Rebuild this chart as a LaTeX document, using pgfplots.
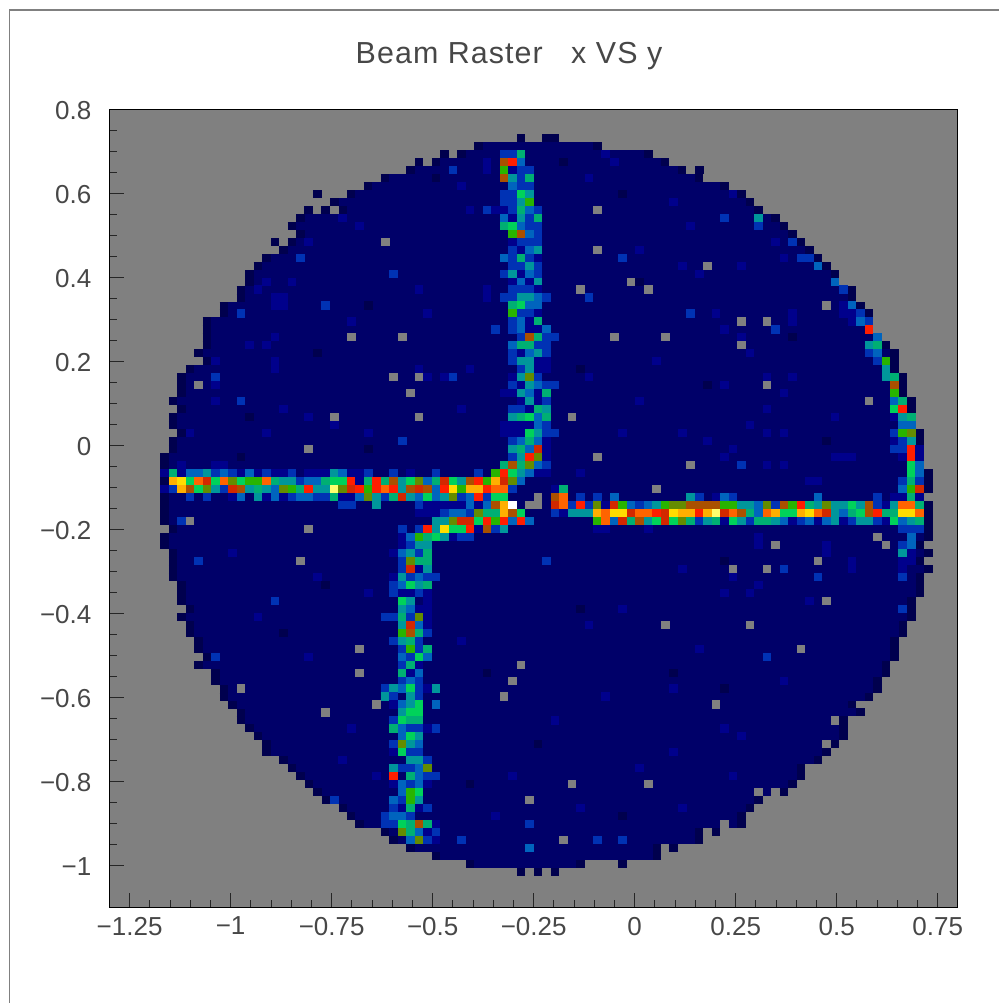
\documentclass[border=0pt]{standalone}
\usepackage{fontspec}
\setmainfont{Liberation Sans}
\newfontfamily\titlefont[LetterSpace=3.5]{Liberation Sans}
\usepackage{pgfplots}
\usepackage{pgfplotstable}
\pgfplotsset{compat=1.18}
\definecolor{bggray}{RGB}{128,128,128}
\definecolor{lvlzero}{RGB}{0,0,78}
\definecolor{lvlbase}{RGB}{0,0,105}
\pgfdeclareplotmark{cell}{\pgfpathrectangle{\pgfqpoint{-2.17pt}{-2.03pt}}{\pgfqpoint{4.34pt}{4.06pt}}\pgfusepathqfill}
% row spans: edge index k, row j, side s
\pgfplotstableread[row sep=\\]{
k j s\\
51 3 1\\ 53 3 -1\\ nan nan 0\\ 43 4 1\\ 58 4 -1\\ nan nan 0\\ 41 5 1\\ 64 5 -1\\ nan nan 0\\
38 6 1\\ 66 6 -1\\ nan nan 0\\ 35 7 1\\ 68 7 -1\\ nan nan 0\\ 32 8 1\\ 70 8 -1\\ nan nan 0\\
30 9 1\\ 73 9 -1\\ nan nan 0\\ 28 10 1\\ 75 10 -1\\ nan nan 0\\ 26 11 1\\ 76 11 -1\\ nan nan 0\\
27 12 1\\ 77 12 -1\\ nan nan 0\\ 22 13 1\\ 79 13 -1\\ nan nan 0\\ 21 14 1\\ 80 14 -1\\ nan nan 0\\
22 15 1\\ 81 15 -1\\ nan nan 0\\ 21 16 1\\ 82 16 -1\\ nan nan 0\\ 20 17 1\\ 83 17 -1\\ nan nan 0\\
18 18 1\\ 84 18 -1\\ nan nan 0\\ 17 19 1\\ 85 19 -1\\ nan nan 0\\ 16 20 1\\ 86 20 -1\\ nan nan 0\\
16 21 1\\ 86 21 -1\\ nan nan 0\\ 15 22 1\\ 88 22 -1\\ nan nan 0\\ 15 23 1\\ 88 23 -1\\ nan nan 0\\
13 24 1\\ 89 24 -1\\ nan nan 0\\ 13 25 1\\ 90 25 -1\\ nan nan 0\\ 11 26 1\\ 90 26 -1\\ nan nan 0\\
11 27 1\\ 90 27 -1\\ nan nan 0\\ 11 28 1\\ 91 28 -1\\ nan nan 0\\ 11 29 1\\ 92 29 -1\\ nan nan 0\\
10 30 1\\ 93 30 -1\\ nan nan 0\\ 11 31 1\\ 93 31 -1\\ nan nan 0\\ 9 32 1\\ 93 32 -1\\ nan nan 0\\
8 33 1\\ 94 33 -1\\ nan nan 0\\ 8 34 1\\ 94 34 -1\\ nan nan 0\\ 8 35 1\\ 94 35 -1\\ nan nan 0\\
7 36 1\\ 95 36 -1\\ nan nan 0\\ 8 37 1\\ 95 37 -1\\ nan nan 0\\ 7 38 1\\ 95 38 -1\\ nan nan 0\\
7 39 1\\ 95 39 -1\\ nan nan 0\\ 8 40 1\\ 96 40 -1\\ nan nan 0\\ 7 41 1\\ 96 41 -1\\ nan nan 0\\
7 42 1\\ 96 42 -1\\ nan nan 0\\ 6 43 1\\ 96 43 -1\\ nan nan 0\\ 6 44 1\\ 96 44 -1\\ nan nan 0\\
6 45 1\\ 97 45 -1\\ nan nan 0\\ 6 46 1\\ 97 46 -1\\ nan nan 0\\ 6 47 1\\ 97 47 -1\\ nan nan 0\\
6 48 1\\ 96 48 -1\\ nan nan 0\\ 6 49 1\\ 97 49 -1\\ nan nan 0\\ 6 50 1\\ 97 50 -1\\ nan nan 0\\
6 51 1\\ 97 51 -1\\ nan nan 0\\ 7 52 1\\ 97 52 -1\\ nan nan 0\\ 6 53 1\\ 97 53 -1\\ nan nan 0\\
6 54 1\\ 96 54 -1\\ nan nan 0\\ 7 55 1\\ 97 55 -1\\ nan nan 0\\ 7 56 1\\ 96 56 -1\\ nan nan 0\\
7 57 1\\ 97 57 -1\\ nan nan 0\\ 7 58 1\\ 96 58 -1\\ nan nan 0\\ 8 59 1\\ 96 59 -1\\ nan nan 0\\
8 60 1\\ 96 60 -1\\ nan nan 0\\ 8 61 1\\ 95 61 -1\\ nan nan 0\\ 9 62 1\\ 95 62 -1\\ nan nan 0\\
8 63 1\\ 95 63 -1\\ nan nan 0\\ 9 64 1\\ 94 64 -1\\ nan nan 0\\ 9 65 1\\ 94 65 -1\\ nan nan 0\\
10 66 1\\ 93 66 -1\\ nan nan 0\\ 10 67 1\\ 93 67 -1\\ nan nan 0\\ 11 68 1\\ 93 68 -1\\ nan nan 0\\
10 69 1\\ 92 69 -1\\ nan nan 0\\ 12 70 1\\ 92 70 -1\\ nan nan 0\\ 12 71 1\\ 91 71 -1\\ nan nan 0\\
13 72 1\\ 91 72 -1\\ nan nan 0\\ 13 73 1\\ 90 73 -1\\ nan nan 0\\ 14 74 1\\ 88 74 -1\\ nan nan 0\\
15 75 1\\ 89 75 -1\\ nan nan 0\\ 15 76 1\\ 87 76 -1\\ nan nan 0\\ 16 77 1\\ 87 77 -1\\ nan nan 0\\
17 78 1\\ 87 78 -1\\ nan nan 0\\ 18 79 1\\ 86 79 -1\\ nan nan 0\\ 18 80 1\\ 85 80 -1\\ nan nan 0\\
20 81 1\\ 84 81 -1\\ nan nan 0\\ 21 82 1\\ 82 82 -1\\ nan nan 0\\ 22 83 1\\ 82 83 -1\\ nan nan 0\\
23 84 1\\ 81 84 -1\\ nan nan 0\\ 24 85 1\\ 80 85 -1\\ nan nan 0\\ 25 86 1\\ 77 86 -1\\ nan nan 0\\
27 87 1\\ 76 87 -1\\ nan nan 0\\ 28 88 1\\ 75 88 -1\\ nan nan 0\\ 29 89 1\\ 75 89 -1\\ nan nan 0\\
32 90 1\\ 70 90 -1\\ nan nan 0\\ 33 91 1\\ 70 91 -1\\ nan nan 0\\ 35 92 1\\ 65 92 -1\\ nan nan 0\\
38 93 1\\ 65 93 -1\\ nan nan 0\\ 42 94 1\\ 56 94 -1\\
}\spans
% empty bins inside the disc: bin i, row j
\pgfplotstableread[row sep=\\]{
i j\\
10 34\\ 32 16\\ 28 28\\ 34 28\\ 33 33\\ 36 33\\ 35 35\\ 26 38\\ 36 38\\ 23 42\\ 9 51\\ 23 52\\
57 12\\ 57 17\\ 70 19\\ 55 22\\ 61 21\\ 63 22\\ 84 24\\ 74 26\\ 77 26\\ 74 29\\ 77 34\\ 89 36\\
59 28\\ 65 28\\ 54 38\\ 57 43\\ 68 44\\ 64 47\\ 50 48\\ 49 49\\ 50 49\\ 90 53\\ 78 54\\ 91 54\\
22 56\\ 83 56\\ 73 57\\ 77 57\\ 84 61\\ 65 64\\ 75 64\\ 29 67\\ 81 67\\ 48 69\\ 29 70\\ 47 71\\
15 72\\ 46 73\\ 31 74\\ 71 74\\ 25 75\\ 85 76\\ 84 79\\ 54 84\\ 63 84\\ 76 85\\ 78 85\\ 49 86\\
72 89\\ 53 91\\
}\holes
% occupied bins: bin i, row j, colour level v
\pgfplotstableread[row sep=\\]{
i j v\\
39 5 0\\ 36 6 0\\ 69 7 0\\ 23 12 0\\ 25 12 0\\ 19 16 0\\ 71 90 0\\ 66 92 0\\ 60 94 0\\ 48 95 0\\ 50 95 0\\ 52 95 0\\
46 5 3\\ 47 5 3\\ 48 5 6\\ 46 6 10\\ 47 6 12\\ 48 6 4\\ 46 7 8\\ 47 7 2\\ 48 7 3\\ 49 7 3\\
46 8 10\\ 47 8 5\\ 48 8 3\\ 49 8 6\\ 47 9 4\\ 48 9 3\\ 49 9 3\\ 46 10 3\\ 47 10 3\\ 48 10 7\\ 49 10 5\\
46 11 3\\ 47 11 3\\ 48 11 5\\ 49 11 8\\ 44 12 3\\ 45 12 2\\ 46 12 2\\ 47 12 3\\ 48 12 6\\ 49 12 4\\ 50 12 3\\
46 13 4\\ 47 13 2\\ 48 13 5\\ 49 13 3\\ 50 13 6\\ 46 14 6\\ 47 14 7\\ 48 14 4\\ 49 14 3\\ 50 14 3\\
47 15 8\\ 48 15 10\\ 49 15 4\\ 50 15 3\\ 47 16 2\\ 48 16 3\\ 49 16 3\\ 50 16 3\\ 47 17 3\\ 48 17 2\\ 49 17 4\\ 50 17 5\\
46 18 4\\ 47 18 3\\ 48 18 6\\ 49 18 3\\ 50 18 2\\ 47 19 3\\ 48 19 3\\ 49 19 5\\ 50 19 3\\
46 20 3\\ 47 20 5\\ 48 20 2\\ 49 20 4\\ 50 20 3\\ 47 21 2\\ 48 21 4\\ 49 21 2\\ 50 21 5\\
47 22 3\\ 48 22 3\\ 49 22 3\\ 50 22 2\\ 46 23 3\\ 47 23 3\\ 48 23 5\\ 49 23 5\\ 50 23 4\\ 51 23 3\\
47 24 6\\ 48 24 7\\ 49 24 4\\ 50 24 4\\ 47 25 8\\ 48 25 3\\ 49 25 3\\ 50 25 2\\
47 26 3\\ 48 26 4\\ 49 26 2\\ 50 26 6\\ 45 27 3\\ 47 27 3\\ 48 27 4\\ 49 27 2\\ 50 27 2\\ 51 27 4\\
48 28 3\\ 49 28 10\\ 50 28 6\\ 51 28 3\\ 52 28 3\\ 47 29 4\\ 48 29 6\\ 49 29 6\\ 50 29 3\\ 51 29 3\\
47 30 3\\ 48 30 2\\ 49 30 4\\ 50 30 5\\ 51 30 3\\ 47 31 3\\ 48 31 5\\ 49 31 5\\ 50 31 2\\ 51 31 2\\
48 32 3\\ 49 32 5\\ 50 32 2\\ 51 32 2\\ 46 33 1\\ 47 33 2\\ 48 33 5\\ 49 33 9\\ 50 33 3\\
47 34 3\\ 48 34 2\\ 49 34 5\\ 50 34 4\\ 51 34 3\\ 52 34 3\\ 46 35 2\\ 47 35 2\\ 48 35 5\\ 49 35 4\\ 50 35 2\\ 51 35 6\\
48 36 2\\ 49 36 5\\ 50 36 2\\ 51 36 3\\ 47 37 3\\ 48 37 3\\ 49 37 2\\ 50 37 6\\ 51 37 5\\
47 38 5\\ 48 38 6\\ 49 38 7\\ 50 38 4\\ 51 38 6\\ 46 39 2\\ 47 39 2\\ 48 39 2\\ 49 39 2\\ 50 39 4\\ 51 39 3\\
46 40 2\\ 47 40 2\\ 48 40 2\\ 49 40 7\\ 50 40 5\\ 51 40 3\\ 52 40 3\\ 47 41 3\\ 48 41 4\\ 49 41 6\\ 50 41 4\\ 51 41 2\\
47 42 5\\ 48 42 6\\ 49 42 4\\ 50 42 11\\ 51 42 2\\ 47 43 3\\ 48 43 5\\ 49 43 12\\ 50 43 9\\ 51 43 2\\
8 44 2\\ 12 44 2\\ 13 44 2\\ 46 44 6\\ 47 44 10\\ 48 44 6\\ 49 44 9\\ 50 44 4\\ 51 44 3\\
6 45 2\\ 7 45 6\\ 8 45 2\\ 9 45 4\\ 10 45 4\\ 11 45 5\\ 12 45 3\\ 13 45 4\\ 14 45 3\\ 15 45 2\\ 16 45 4\\ 17 45 2\\ 18 45 3\\ 19 45 2\\ 20 45 2\\ 21 45 3\\ 23 45 2\\ 24 45 2\\ 25 45 2\\ 26 45 5\\ 27 45 4\\ 28 45 2\\ 29 45 2\\ 30 45 3\\ 33 45 3\\ 35 45 2\\ 38 45 3\\ 43 45 3\\ 45 45 8\\ 46 45 12\\ 47 45 7\\ 48 45 5\\ 49 45 4\\ 50 45 2\\ 51 45 2\\
7 46 14\\ 8 46 15\\ 9 46 7\\ 10 46 13\\ 11 46 11\\ 12 46 7\\ 13 46 13\\ 14 46 9\\ 15 46 7\\ 16 46 8\\ 17 46 8\\ 18 46 13\\ 19 46 6\\ 20 46 5\\ 21 46 5\\ 22 46 3\\ 23 46 4\\ 24 46 4\\ 25 46 6\\ 26 46 7\\ 27 46 7\\ 28 46 12\\ 29 46 2\\ 30 46 6\\ 31 46 12\\ 32 46 6\\ 33 46 10\\ 34 46 5\\ 35 46 7\\ 36 46 9\\ 37 46 4\\ 38 46 6\\ 39 46 11\\ 40 46 7\\ 41 46 5\\ 42 46 10\\ 43 46 12\\ 44 46 8\\ 45 46 14\\ 46 46 11\\ 47 46 9\\ 48 46 4\\
6 47 2\\ 7 47 3\\ 8 47 14\\ 9 47 10\\ 10 47 7\\ 11 47 9\\ 12 47 5\\ 13 47 3\\ 14 47 11\\ 15 47 10\\ 16 47 5\\ 17 47 6\\ 18 47 5\\ 19 47 4\\ 20 47 9\\ 21 47 8\\ 22 47 6\\ 23 47 12\\ 24 47 5\\ 25 47 5\\ 26 47 16\\ 27 47 9\\ 28 47 11\\ 29 47 12\\ 30 47 8\\ 31 47 12\\ 32 47 13\\ 33 47 12\\ 34 47 5\\ 35 47 10\\ 36 47 11\\ 37 47 10\\ 38 47 4\\ 39 47 12\\ 40 47 15\\ 41 47 8\\ 42 47 14\\ 43 47 14\\ 44 47 12\\ 45 47 13\\ 46 47 13\\ 47 47 3\\ 53 47 6\\ 52 47 2\\
9 48 3\\ 11 48 3\\ 14 48 2\\ 15 48 4\\ 17 48 5\\ 18 48 2\\ 19 48 4\\ 20 48 2\\ 21 48 3\\ 22 48 4\\ 23 48 4\\ 24 48 3\\ 25 48 3\\ 26 48 6\\ 27 48 2\\ 28 48 2\\ 29 48 4\\ 30 48 9\\ 31 48 5\\ 32 48 3\\ 33 48 6\\ 34 48 11\\ 35 48 5\\ 36 48 4\\ 37 48 7\\ 38 48 4\\ 39 48 5\\ 40 48 9\\ 41 48 3\\ 42 48 4\\ 43 48 12\\ 44 48 3\\ 45 48 7\\ 46 48 7\\ 52 48 10\\ 53 48 13\\ 55 48 3\\ 57 48 3\\ 59 48 4\\
68 48 5\\ 69 48 3\\ 71 48 2\\ 72 48 4\\ 73 48 3\\ 83 48 4\\ 90 48 3\\ 92 48 2\\ 93 48 2\\ 94 48 6\\ 95 48 2\\
27 49 3\\ 28 49 3\\ 31 49 5\\ 36 49 3\\ 37 49 2\\ 38 49 2\\ 39 49 2\\ 40 49 2\\ 41 49 2\\ 42 49 4\\ 43 49 2\\ 44 49 4\\ 45 49 10\\ 46 49 14\\ 47 49 17\\ 52 49 11\\ 53 49 13\\ 54 49 3\\ 55 49 12\\ 56 49 3\\ 57 49 9\\ 58 49 2\\ 59 49 11\\ 60 49 8\\ 61 49 4\\ 62 49 3\\ 63 49 4\\ 64 49 5\\ 65 49 8\\ 66 49 9\\ 67 49 9\\ 68 49 10\\ 69 49 10\\ 70 49 10\\ 71 49 10\\ 72 49 8\\ 73 49 8\\ 74 49 5\\ 75 49 5\\ 76 49 4\\ 77 49 9\\ 78 49 3\\ 79 49 10\\ 80 49 8\\ 81 49 12\\ 82 49 6\\ 83 49 5\\ 84 49 9\\ 85 49 5\\ 86 49 5\\ 87 49 7\\ 88 49 5\\ 89 49 10\\ 90 49 3\\ 91 49 2\\ 92 49 5\\ 93 49 13\\ 94 49 13\\ 95 49 6\\ 96 49 0\\
36 50 2\\ 37 50 2\\ 38 50 2\\ 39 50 3\\ 40 50 4\\ 41 50 4\\ 42 50 3\\ 43 50 9\\ 44 50 6\\ 45 50 6\\ 46 50 14\\ 47 50 10\\ 48 50 7\\ 52 50 3\\ 53 50 2\\ 54 50 5\\ 55 50 5\\ 56 50 5\\ 57 50 14\\ 58 50 13\\ 59 50 15\\ 60 50 15\\ 61 50 11\\ 62 50 13\\ 63 50 13\\ 64 50 12\\ 65 50 11\\ 66 50 15\\ 67 50 14\\ 68 50 14\\ 69 50 12\\ 70 50 14\\ 71 50 16\\ 72 50 11\\ 73 50 13\\ 74 50 10\\ 75 50 6\\ 76 50 4\\ 77 50 13\\ 78 50 14\\ 79 50 7\\ 80 50 7\\ 81 50 14\\ 82 50 15\\ 83 50 13\\ 84 50 11\\ 85 50 5\\ 86 50 4\\ 87 50 6\\ 88 50 7\\ 89 50 10\\ 90 50 12\\ 91 50 6\\ 92 50 6\\ 93 50 15\\ 94 50 15\\ 95 50 13\\
8 51 3\\ 38 51 5\\ 39 51 5\\ 40 51 9\\ 41 51 11\\ 42 51 11\\ 43 51 7\\ 44 51 12\\ 45 51 8\\ 46 51 12\\ 47 51 4\\ 48 51 12\\ 49 51 4\\ 57 51 8\\ 58 51 13\\ 59 51 4\\ 60 51 11\\ 61 51 6\\ 62 51 10\\ 63 51 5\\ 64 51 7\\ 65 51 11\\ 66 51 7\\ 67 51 9\\ 68 51 6\\ 69 51 3\\ 70 51 5\\ 71 51 6\\ 72 51 2\\ 73 51 7\\ 74 51 5\\ 75 51 3\\ 76 51 6\\ 77 51 6\\ 78 51 5\\ 79 51 4\\ 80 51 2\\ 81 51 3\\ 82 51 4\\ 83 51 2\\ 84 51 4\\ 85 51 5\\ 86 51 2\\ 87 51 3\\ 88 51 5\\ 89 51 5\\ 90 51 3\\ 91 51 2\\ 92 51 7\\ 93 51 4\\ 94 51 5\\ 95 51 6\\
34 52 3\\ 36 52 3\\ 37 52 12\\ 38 52 5\\ 39 52 15\\ 40 52 7\\ 41 52 7\\ 42 52 12\\ 43 52 2\\ 44 52 10\\ 45 52 3\\ 46 52 5\\ 93 52 3\\ 94 52 3\\ 95 52 3\\ 57 52 2\\ 58 52 2\\ 63 52 2\\
34 53 2\\ 35 53 4\\ 36 53 8\\ 37 53 6\\ 38 53 7\\ 39 53 5\\ 40 53 2\\ 41 53 3\\ 42 53 3\\ 94 53 4\\
34 54 2\\ 35 54 3\\ 36 54 5\\ 37 54 5\\ 93 54 3\\ 94 54 4\\ 33 55 2\\ 34 55 4\\ 35 55 5\\ 36 55 3\\ 37 55 6\\ 93 55 5\\ 94 55 2\\
10 56 3\\ 34 56 3\\ 35 56 9\\ 36 56 6\\ 37 56 6\\ 51 56 3\\ 93 56 2\\ 94 56 2\\ 34 57 3\\ 35 57 11\\ 36 57 2\\ 37 57 5\\ 93 57 2\\ 79 57 3\\ 73 58 2\\
33 58 2\\ 34 58 5\\ 35 58 3\\ 36 58 4\\ 37 58 3\\ 38 58 3\\ 83 58 3\\ 93 58 3\\ 33 59 3\\ 34 59 4\\ 35 59 7\\ 36 59 5\\ 37 59 6\\
33 60 3\\ 34 60 2\\ 35 60 2\\ 36 60 3\\ 37 60 2\\ 19 61 3\\ 34 61 7\\ 35 61 5\\ 37 61 2\\ 34 62 5\\ 35 62 4\\ 36 62 2\\ 37 62 2\\ 93 62 3\\
32 63 3\\ 33 63 3\\ 34 63 6\\ 35 63 3\\ 36 63 9\\ 37 63 2\\ 34 64 5\\ 35 64 11\\ 36 64 4\\ 37 64 2\\ 34 65 8\\ 35 65 10\\ 36 65 6\\ 37 65 3\\
33 66 3\\ 34 66 5\\ 35 66 6\\ 36 66 3\\ 34 67 3\\ 35 67 8\\ 36 67 3\\ 37 67 6\\ 12 68 3\\ 34 68 4\\ 35 68 3\\ 36 68 7\\ 37 68 4\\ 77 68 3\\
34 69 3\\ 35 69 6\\ 36 69 2\\ 34 70 6\\ 35 70 2\\ 36 70 4\\ 34 71 3\\ 35 71 4\\ 36 71 3\\
32 72 3\\ 33 72 5\\ 34 72 4\\ 35 72 7\\ 36 72 3\\ 37 72 2\\ 38 72 5\\ 32 73 5\\ 33 73 3\\ 35 73 5\\ 36 73 3\\
33 74 2\\ 34 74 4\\ 35 74 5\\ 36 74 7\\ 38 74 4\\ 34 75 5\\ 35 75 7\\ 36 75 7\\ 33 76 3\\ 34 76 7\\ 35 76 6\\ 36 76 6\\
33 77 6\\ 34 77 4\\ 35 77 3\\ 36 77 3\\ 37 77 2\\ 38 77 3\\ 72 77 2\\ 34 78 4\\ 35 78 7\\ 36 78 5\\ 33 79 3\\ 34 79 9\\ 35 79 5\\ 36 79 4\\
33 80 2\\ 34 80 7\\ 35 80 3\\ 36 80 3\\ 35 81 5\\ 36 81 5\\ 37 81 3\\ 33 82 5\\ 34 82 3\\ 35 82 3\\ 36 82 4\\ 37 82 9\\
31 83 2\\ 33 83 12\\ 35 83 6\\ 36 83 4\\ 37 83 3\\ 38 83 3\\ 33 84 2\\ 34 84 4\\ 35 84 3\\ 36 84 4\\ 37 84 2\\ 34 85 4\\ 35 85 8\\ 36 85 7\\
26 86 3\\ 33 86 4\\ 34 86 3\\ 35 86 8\\ 36 86 5\\ 33 87 3\\ 34 87 2\\ 35 87 6\\ 36 87 2\\ 37 87 3\\ 32 88 3\\ 33 88 4\\ 34 88 4\\ 35 88 3\\
32 89 3\\ 33 89 3\\ 34 89 7\\ 35 89 6\\ 36 89 10\\ 37 89 6\\ 38 89 2\\ 49 89 3\\ 34 90 9\\ 35 90 6\\ 36 90 4\\ 37 90 2\\ 38 90 3\\
34 91 1\\ 35 91 4\\ 36 91 9\\ 37 91 3\\ 38 91 2\\ 41 91 3\\ 57 91 3\\ 60 91 3\\ 49 92 4\\
87 24 4\\ 86 24 2\\ 88 25 3\\ 87 25 2\\ 68 25 3\\ 88 26 4\\ 89 26 3\\ 89 27 12\\ 78 27 3\\ 90 28 4\\ 89 29 5\\ 90 29 6\\ 89 30 3\\ 90 30 4\\ 90 31 3\\ 91 31 8\\ 91 32 5\\ 91 33 5\\ 92 33 6\\ 92 34 10\\ 92 35 8\\ 92 36 4\\ 93 36 6\\ 92 37 7\\ 93 37 12\\ 92 38 2\\ 93 38 5\\ 94 38 6\\ 93 39 4\\ 94 39 4\\ 92 40 3\\ 93 40 8\\ 94 40 9\\ 92 41 2\\ 93 41 3\\ 94 41 5\\ 92 42 3\\ 93 42 3\\ 94 42 12\\ 95 42 2\\ 93 43 2\\ 94 43 12\\ 95 43 2\\ 74 44 3\\ 94 44 7\\ 95 44 4\\ 94 45 7\\ 95 45 4\\ 93 46 3\\ 94 46 6\\ 95 46 3\\ 93 47 4\\ 94 47 8\\ 95 47 11\\
72 13 3\\ 76 13 5\\ 76 14 3\\ 80 16 3\\ 81 18 3\\ 82 18 3\\ 60 18 3\\ 83 19 4\\ 85 21 4\\ 86 22 3\\ 56 23 3\\
22 18 3\\ 33 20 3\\ 25 24 3\\ 15 25 3\\ 12 33 3\\ 40 33 3\\ 15 36 3\\ 40 7 3\\ 34 41 3\\
23 16 2\\ 27 13 2\\ 29 14 2\\ 17 22 2\\ 19 23 2\\ 20 23 2\\ 19 24 2\\ 20 24 2\\ 21 21 2\\ 18 21 2\\ 42 12 2\\ 44 6 2\\ 44 7 2\\ 41 9 2\\ 12 31 2\\ 9 40 2\\ 18 29 2\\ 19 28 2\\ 16 29 2\\ 19 31 2\\ 19 32 2\\ 18 40 2\\ 12 34 2\\ 12 36 2\\ 20 37 2\\ 41 37 2\\ 42 32 2\\ 30 40 2\\ 26 39 2\\ 23 38 2\\ 39 33 2\\ 37 33 2\\ 36 32 2\\ 44 22 2\\ 44 23 2\\ 36 22 2\\ 37 25 2\\ 28 26 2\\
66 11 2\\ 68 14 2\\ 73 10 2\\ 58 5 2\\ 59 6 2\\ 56 8 2\\ 62 17 2\\ 67 19 2\\ 74 19 2\\ 79 18 2\\ 78 16 2\\ 69 20 2\\ 71 25 2\\ 75 30 2\\ 80 33 2\\ 77 37 2\\ 70 41 2\\ 85 38 2\\ 73 42 2\\ 79 40 2\\ 86 43 2\\ 55 45 2\\ 60 40 2\\ 62 36 2\\ 56 33 2\\ 64 31 2\\ 24 58 2\\ 30 60 2\\ 17 63 2\\ 41 66 2\\ 60 62 2\\ 76 59 2\\ 82 61 2\\ 72 60 2\\ 69 67 2\\ 56 64 2\\ 58 73 2\\ 66 72 2\\ 79 71 2\\ 74 78 2\\ 66 80 2\\ 52 76 2\\ 47 83 2\\ 62 82 2\\ 73 83 2\\ 67 87 2\\ 45 88 2\\ 55 87 2\\ 14 55 2\\ 23 68 2\\ 28 77 2\\ 27 81 2\\
86 25 2\\ 87 26 2\\ 80 25 2\\ 80 26 2\\ 72 27 2\\ 74 28 2\\ 77 33 2\\ 72 34 2\\ 79 35 2\\ 75 39 2\\ 67 40 2\\ 77 40 2\\ 72 43 2\\ 85 43 2\\ 86 43 2\\ 87 43 2\\ 79 44 2\\ 77 44 2\\ 82 46 2\\ 83 46 2\\ 76 53 2\\ 76 54 2\\ 84 54 2\\ 84 55 2\\ 67 57 2\\ 87 56 2\\ 87 57 2\\ 75 60 2\\
24 10 0\\ 38 8 0\\ 48 3 0\\ 53 6 0\\ 60 10 0\\ 62 21 0\\ 55 32 0\\ 30 24 0\\ 24 30 0\\ 16 38 0\\ 72 56 0\\ 66 70 0\\ 50 79 0\\ 60 88 0\\ 42 84 0\\ 25 59 0\\ 20 65 0\\ 15 43 0\\ 30 42 0\\ 70 34 0\\ 80 28 0\\ 84 41 0\\ 55 62 0\\ 44 70 0\\ 72 72 0\\
}\cells
\begin{document}
\begin{tikzpicture}[x=1pt,y=1pt]
\useasboundingbox (0,0) rectangle (499.5,501.5);
\draw[draw=gray,line width=0.6pt] (4.85,0) -- (4.85,496.5) -- (499.5,496.5);
\node[font=\titlefont\fontsize{15.2}{18}\selectfont,text=black!72] at (254.5,473.5) {Beam Raster\ \ \ x VS y};
\begin{axis}[
  at={(54.7pt,47.5pt)},anchor=south west,
  scale only axis,width=424.3pt,height=399pt,
  xmin=-1.3,xmax=0.8,ymin=-1.1,ymax=0.8,
  axis background/.style={fill=bggray},
  axis line style={black,line width=0.5pt},
  axis on top,
  tick align=inside,tickpos=left,
  major tick length=7.5pt,minor tick length=3.8pt,
  every tick/.style={black!85,line width=0.5pt},
  xtick={-1.25,-1,-0.75,-0.5,-0.25,0,0.25,0.5,0.75},
  xticklabels={−1.25,−1,−0.75,−0.5,−0.25,0,0.25,0.5,0.75},
  ytick={-1,-0.8,-0.6,-0.4,-0.2,0,0.2,0.4,0.6,0.8},
  yticklabels={−1,−0.8,−0.6,−0.4,−0.2,0,0.2,0.4,0.6,0.8},
  minor x tick num=4,minor y tick num=3,
  tick label style={font=\fontsize{13}{15}\selectfont,text=black!72},
  xticklabel style={yshift=-1pt},
  yticklabel style={xshift=-5.5pt,yshift=-0.3pt},
  colormap={raster}{rgb255=(0,0,78) rgb255=(0,0,105) rgb255=(0,0,140) rgb255=(0,50,180) rgb255=(0,100,190) rgb255=(0,150,155) rgb255=(0,175,115) rgb255=(0,210,90) rgb255=(40,180,0) rgb255=(100,140,0) rgb255=(170,80,0) rgb255=(210,40,0) rgb255=(255,30,0) rgb255=(255,100,0) rgb255=(255,175,0) rgb255=(255,220,0) rgb255=(255,255,110) rgb255=(255,255,255)},
  point meta min=0,point meta max=17,
  unbounded coords=jump,
]
\addplot[draw=lvlzero,line width=3.995pt,line cap=butt,no markers] table[x expr={-1.3+0.021*\thisrow{k}},y expr={0.8-0.019*(\thisrow{j}+0.5)}] {\spans};
\addplot[draw=lvlbase,line width=3.995pt,line cap=butt,no markers] table[x expr={-1.3+0.021*(\thisrow{k}+\thisrow{s})},y expr={0.8-0.019*(\thisrow{j}+0.5)}] {\spans};
\addplot[only marks,mark=cell,color=bggray,mark options={fill=bggray,draw=none}] table[x expr={-1.3+0.021*(\thisrow{i}+0.5)},y expr={0.8-0.019*(\thisrow{j}+0.5)}] {\holes};
\addplot[scatter,only marks,mark=cell,scatter/use mapped color={draw=none,fill=mapped color},point meta=explicit] table[x expr={-1.3+0.021*(\thisrow{i}+0.5)},y expr={0.8-0.019*(\thisrow{j}+0.5)},meta=v] {\cells};
\end{axis}
\end{tikzpicture}
\end{document}
